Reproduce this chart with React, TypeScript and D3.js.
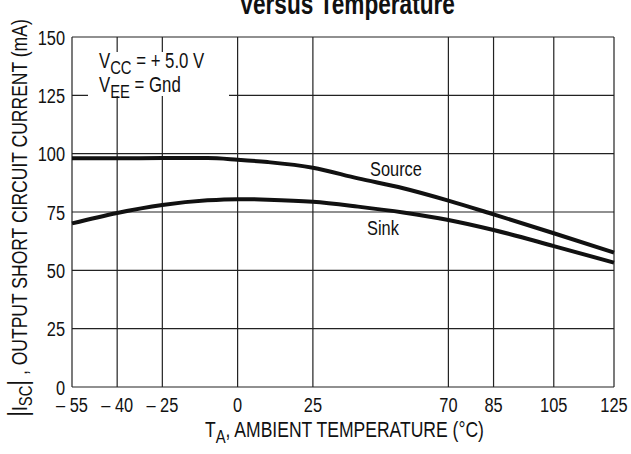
import React from 'react';
import * as d3 from 'd3';

const temps = [-55, -40, -25, -10, 0, 10, 25, 40, 55, 70, 85, 105, 125];
const sourceCurrent = [98.0, 98.0, 98.1, 98.1, 97.4, 96.4, 94.0, 89.4, 85.2, 79.9, 74.0, 65.9, 57.6];
const sinkCurrent = [70.1, 74.6, 78.0, 80.0, 80.5, 80.3, 79.4, 77.3, 74.8, 71.6, 67.3, 60.4, 53.3];

const xTicks = [-55, -40, -25, 0, 25, 70, 85, 105, 125];
const yTicks = [0, 25, 50, 75, 100, 125, 150];

const W = 631;
const H = 454;
const margin = { top: 37, right: 17, bottom: 67, left: 72 };
const FONT = "'Liberation Sans', Arial, sans-serif";
const NARROW = 0.78;

const fmtX = (t: number) => (t < 0 ? `\u2013 ${Math.abs(t)}` : `${t}`);

// the reference uses a narrow Helvetica, so squeeze text horizontally
function NText({ x, y, rotate = 0, anchor = 'start', size, weight, children }: any) {
  return (
    <text
      transform={`translate(${x},${y}) rotate(${rotate}) scale(${NARROW},1)`}
      textAnchor={anchor}
      fontSize={size}
      fontWeight={weight}
      fill="#111"
    >
      {children}
    </text>
  );
}

export default function App() {
  const x = d3.scaleLinear().domain([-55, 125]).range([margin.left, W - margin.right]);
  const y = d3.scaleLinear().domain([0, 150]).range([H - margin.bottom, margin.top]);

  const line = d3
    .line<number>()
    .x((_, i) => x(temps[i]))
    .y((d) => y(d))
    .curve(d3.curveMonotoneX);

  const grid = '#222';

  return (
    <svg
      width={W}
      height={H}
      style={{ position: 'absolute', left: 0, top: 0, background: '#fff' }}
      fontFamily={FONT}
    >
      <rect width={W} height={H} fill="#fff" />
      {/* title, cut at the top */}
      <NText x={347} y={14} anchor="middle" size={29} weight="bold">
        Versus Temperature
      </NText>

      {/* grid */}
      {yTicks.map((t) => (
        <line key={'h' + t} x1={x(-55)} x2={x(125)} y1={y(t)} y2={y(t)} stroke={grid} strokeWidth={1.2} />
      ))}
      {xTicks.map((t) => (
        <line key={'v' + t} x1={x(t)} x2={x(t)} y1={y(0)} y2={y(150)} stroke={grid} strokeWidth={1.2} />
      ))}

      {/* condition box */}
      <rect x={88} y={52} width={141} height={44} fill="#fff" />
      <NText x={99} y={68} size={21.5}>
        V<tspan fontSize={19} dy={6}>CC</tspan>
        <tspan dy={-6}> = + 5.0 V</tspan>
      </NText>
      <NText x={99} y={92} size={21.5}>
        V<tspan fontSize={19} dy={6}>EE</tspan>
        <tspan dy={-6}> = Gnd</tspan>
      </NText>

      {/* curves */}
      <path d={line(sourceCurrent) || ''} fill="none" stroke="#111" strokeWidth={4} />
      <path d={line(sinkCurrent) || ''} fill="none" stroke="#111" strokeWidth={4} />
      <NText x={370} y={176} size={21}>Source</NText>
      <NText x={367} y={235} size={21}>Sink</NText>

      {/* y tick labels */}
      {yTicks.map((t) => (
        <NText key={'yl' + t} x={65} y={y(t) + 7.5} anchor="end" size={21}>
          {t}
        </NText>
      ))}
      {/* x tick labels */}
      {xTicks.map((t) => (
        <NText key={'xl' + t} x={x(t)} y={412} anchor="middle" size={21}>
          {fmtX(t)}
        </NText>
      ))}

      {/* axis titles */}
      <NText x={205} y={437} size={22.5}>
        T<tspan fontSize={19} dy={6}>A</tspan>
        <tspan dy={-6}>, AMBIENT TEMPERATURE (°C)</tspan>
      </NText>
      <NText x={27} y={218} rotate={-90} anchor="middle" size={22.5}>
        <tspan fontSize={28}>|</tspan>I<tspan fontSize={19} dy={5}>SC</tspan>
        <tspan dy={-5} fontSize={28}>|</tspan>
        <tspan> , OUTPUT SHORT CIRCUIT CURRENT (mA)</tspan>
      </NText>
    </svg>
  );
}
